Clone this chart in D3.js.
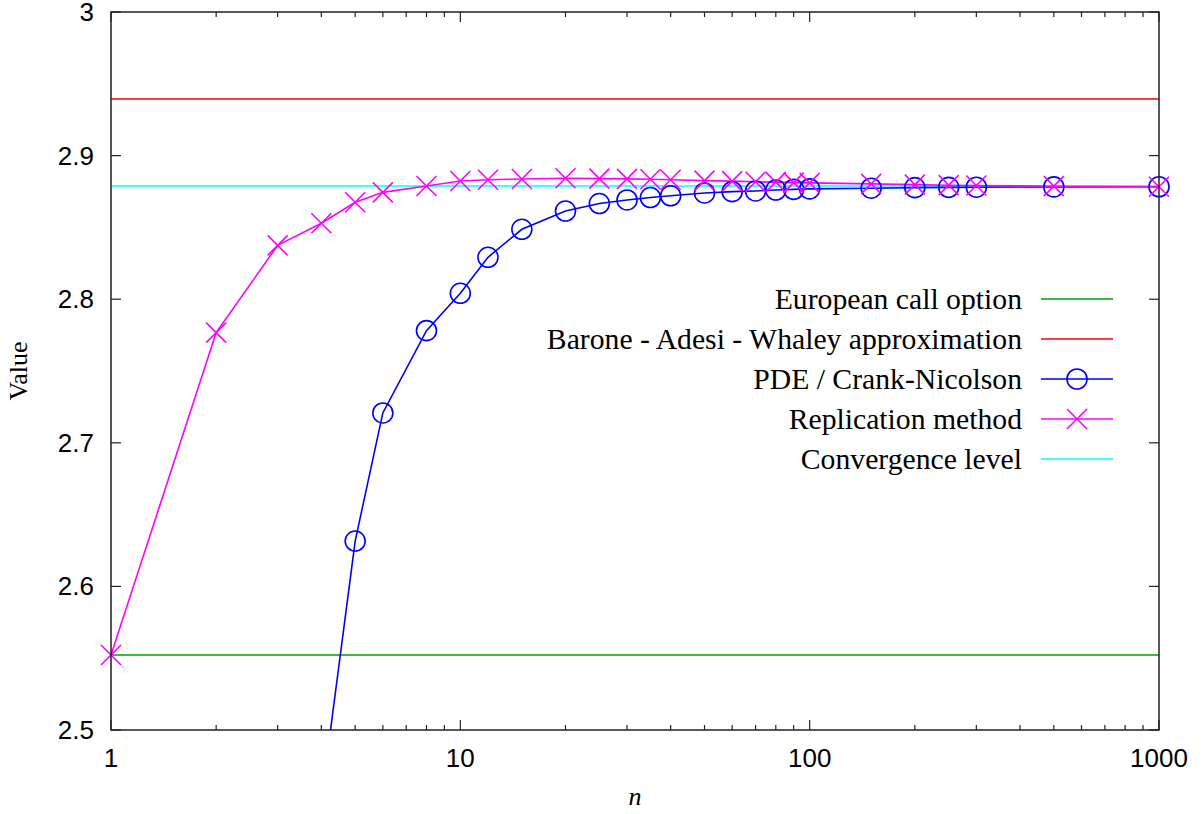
<!DOCTYPE html>
<html>
<head>
<meta charset="utf-8">
<script src="https://cdn.jsdelivr.net/npm/d3@7"></script>
<style>
  body { margin: 0; background: #fff; }
  svg { display: block; }
</style>
</head>
<body>
<svg id="chart"></svg>
<script>
// values
var europeanLevel = 2.5522;
var baweLevel = 2.9394;
var convergenceLevel = 2.8788;

var pdeN = [4, 5, 6, 8, 10, 12, 15, 20, 25, 30, 35, 40, 50, 60, 70, 80, 90, 100, 150, 200, 250, 300, 500, 1000];
var pdeValues = [2.451, 2.6316, 2.7208, 2.7781, 2.8041, 2.8292, 2.8487, 2.8614, 2.8666, 2.8691, 2.8708, 2.8720,
	2.8740, 2.8749, 2.8754, 2.8760, 2.8765, 2.8768, 2.8773, 2.8777, 2.8779, 2.8780, 2.8782, 2.8783];

var repN = [1, 2, 3, 4, 5, 6, 8, 10, 12, 15, 20, 25, 30, 35, 40, 50, 60, 70, 80, 90, 100, 150, 200, 250, 300, 500, 1000];
var repValues = [2.5522, 2.7767, 2.8375, 2.8529, 2.8675, 2.8744, 2.8788, 2.8823, 2.8832, 2.8837, 2.8842, 2.8840,
	2.8838, 2.8835, 2.8832, 2.8826, 2.8822, 2.8818, 2.8815, 2.8812, 2.8810, 2.8803, 2.8798, 2.8794, 2.8792, 2.8787, 2.8783];

var yTicks = [2.5, 2.6, 2.7, 2.8, 2.9, 3];
var xTicks = [1, 10, 100, 1000];

var width = 1203,
	height = 814,
	plotLeft = 111, plotRight = 1159, plotTop = 12, plotBottom = 730;

var svg = d3.select("#chart")
	.attr('width', width)
	.attr('height', height)
	.style('background', '#ffffff');

var x = d3.scaleLog().domain([1, 1000]).range([plotLeft, plotRight]);
var y = d3.scaleLinear().domain([2.5, 3]).range([plotBottom, plotTop]);

var tickFont = '"Liberation Sans", Arial, sans-serif';
var serifFont = '"Liberation Serif", "Times New Roman", serif';

svg.append('clipPath').attr('id', 'plotclip')
	.append('rect')
	.attr('x', plotLeft).attr('y', plotTop)
	.attr('width', plotRight - plotLeft).attr('height', plotBottom - plotTop);

// ticks (inside, mirrored)
var minor = [];
for (var d = 1; d < 1000; d *= 10) {
	for (var k = 2; k <= 9; k++) minor.push(d * k);
}
var tickG = svg.append('g').attr('stroke', '#222').attr('stroke-width', 1.2);
minor.forEach(function (v) {
	tickG.append('line').attr('x1', x(v)).attr('x2', x(v)).attr('y1', plotBottom).attr('y2', plotBottom - 5);
	tickG.append('line').attr('x1', x(v)).attr('x2', x(v)).attr('y1', plotTop).attr('y2', plotTop + 5);
});
xTicks.forEach(function (v) {
	tickG.append('line').attr('x1', x(v)).attr('x2', x(v)).attr('y1', plotBottom).attr('y2', plotBottom - 10);
	tickG.append('line').attr('x1', x(v)).attr('x2', x(v)).attr('y1', plotTop).attr('y2', plotTop + 10);
});
yTicks.forEach(function (v) {
	tickG.append('line').attr('x1', plotLeft).attr('x2', plotLeft + 10).attr('y1', y(v)).attr('y2', y(v));
	tickG.append('line').attr('x1', plotRight).attr('x2', plotRight - 10).attr('y1', y(v)).attr('y2', y(v));
});

// tick labels
svg.append('g').selectAll('text').data(xTicks)
	.enter().append('text')
		.attr('x', function (d) { return x(d); })
		.attr('y', 767)
		.attr('text-anchor', 'middle')
		.style('font-family', tickFont)
		.style('font-size', '26px')
		.text(function (d) { return d; });

svg.append('g').selectAll('text').data(yTicks)
	.enter().append('text')
		.attr('x', 94)
		.attr('y', function (d) { return y(d) + 9; })
		.attr('text-anchor', 'end')
		.style('font-family', tickFont)
		.style('font-size', '26px')
		.text(function (d) { return d3.format('')(d); });

// axis titles
svg.append('text')
	.attr('x', (plotLeft + plotRight) / 2).attr('y', 805)
	.attr('text-anchor', 'middle')
	.style('font-family', serifFont)
	.style('font-style', 'italic')
	.style('font-size', '26px')
	.text('n');

svg.append('text')
	.attr('transform', 'translate(27,' + (plotTop + plotBottom) / 2 + ') rotate(-90)')
	.attr('text-anchor', 'middle')
	.style('font-family', serifFont)
	.style('font-size', '26px')
	.text('Value');

// series
var plot = svg.append('g').attr('clip-path', 'url(#plotclip)');

var hlines = [
	{ v: europeanLevel, color: '#00a000' },
	{ v: baweLevel, color: '#ff0000' },
	{ v: convergenceLevel, color: '#00ffff' }
];
plot.selectAll('line.h').data(hlines)
	.enter().append('line')
		.attr('class', 'h')
		.attr('x1', plotLeft).attr('x2', plotRight)
		.attr('y1', function (d) { return y(d.v); })
		.attr('y2', function (d) { return y(d.v); })
		.attr('stroke', function (d) { return d.color; })
		.attr('stroke-width', 1.5);

var pde = pdeN.map(function (n, i) { return { n: n, v: pdeValues[i] }; });
var rep = repN.map(function (n, i) { return { n: n, v: repValues[i] }; });

var line = d3.line()
	.x(function (d) { return x(d.n); })
	.y(function (d) { return y(d.v); });

plot.append('path').datum(pde)
	.attr('d', line).attr('fill', 'none')
	.attr('stroke', '#0000ff').attr('stroke-width', 1.6);

plot.append('path').datum(rep)
	.attr('d', line).attr('fill', 'none')
	.attr('stroke', '#ff00ff').attr('stroke-width', 1.6);

function inside(d) { return d.v >= 2.5 && d.v <= 3; }

svg.append('g').selectAll('circle').data(pde.filter(inside))
	.enter().append('circle')
		.attr('cx', function (d) { return x(d.n); })
		.attr('cy', function (d) { return y(d.v); })
		.attr('r', 10)
		.attr('fill', 'none')
		.attr('stroke', '#0000ff')
		.attr('stroke-width', 1.6);

var cross = 'M-10,-10L10,10M-10,10L10,-10';
svg.append('g').selectAll('path').data(rep.filter(inside))
	.enter().append('path')
		.attr('transform', function (d) { return 'translate(' + x(d.n) + ',' + y(d.v) + ')'; })
		.attr('d', cross)
		.attr('stroke', '#ff00ff')
		.attr('stroke-width', 1.6);

// border
svg.append('rect')
	.attr('x', plotLeft).attr('y', plotTop)
	.attr('width', plotRight - plotLeft).attr('height', plotBottom - plotTop)
	.attr('fill', 'none')
	.attr('stroke', '#222')
	.attr('stroke-width', 1.5);

// legend
var legend = [
	{ label: 'European call option', color: '#00a000', mark: null },
	{ label: 'Barone - Adesi - Whaley approximation', color: '#ff0000', mark: null },
	{ label: 'PDE / Crank-Nicolson', color: '#0000ff', mark: 'circle' },
	{ label: 'Replication method', color: '#ff00ff', mark: 'cross' },
	{ label: 'Convergence level', color: '#00ffff', mark: null }
];
var lg = svg.append('g').selectAll('g').data(legend)
	.enter().append('g')
		.attr('transform', function (d, i) { return 'translate(0,' + (299 + i * 40) + ')'; });

lg.append('text')
	.attr('x', 1022).attr('y', 10)
	.attr('text-anchor', 'end')
	.style('font-family', serifFont)
	.style('font-size', '29.7px')
	.text(function (d) { return d.label; });

lg.append('line')
	.attr('x1', 1041).attr('x2', 1113)
	.attr('y1', 0).attr('y2', 0)
	.attr('stroke', function (d) { return d.color; })
	.attr('stroke-width', 1.5);

lg.filter(function (d) { return d.mark === 'circle'; })
	.append('circle')
		.attr('cx', 1077).attr('cy', 0).attr('r', 10)
		.attr('fill', 'none').attr('stroke', '#0000ff').attr('stroke-width', 1.6);

lg.filter(function (d) { return d.mark === 'cross'; })
	.append('path')
		.attr('transform', 'translate(1077,0)')
		.attr('d', cross)
		.attr('stroke', '#ff00ff').attr('stroke-width', 1.6);
</script>
</body>
</html>
